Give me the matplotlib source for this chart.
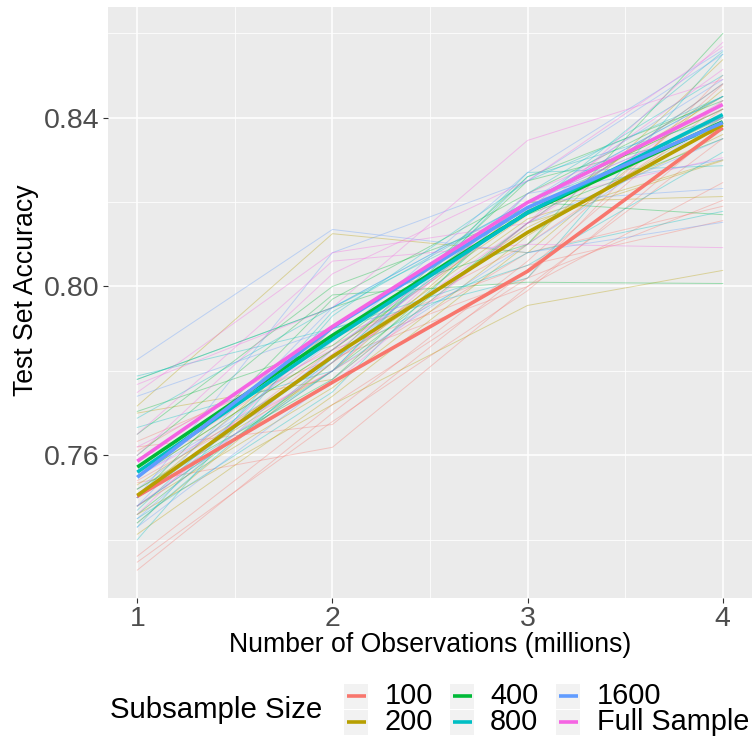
import matplotlib
matplotlib.use("Agg")
import matplotlib.pyplot as plt
from matplotlib.lines import Line2D
from matplotlib.patches import Rectangle

plt.rcParams['font.family'] = ['Liberation Sans', 'DejaVu Sans']

# ---------------- data ----------------
obs_millions = [1, 2, 3, 4]
groups = ["100", "200", "400", "800", "1600", "Full Sample"]
colors = ["#F8766D", "#B79F00", "#00BA38", "#00BFC4", "#619CFF", "#F564E3"]

# mean accuracy per subsample size (thick lines)
mean_100 = [0.7503, 0.7773, 0.8036, 0.8376]
mean_200 = [0.7505, 0.7834, 0.8128, 0.8383]
mean_400 = [0.7572, 0.7884, 0.8175, 0.8390]
mean_800 = [0.7560, 0.7875, 0.8175, 0.8407]
mean_1600 = [0.7548, 0.7903, 0.8187, 0.8388]
mean_full = [0.7586, 0.7905, 0.8199, 0.8431]

# individual runs (thin lines)
runs_100 = [
    [0.7328, 0.7700, 0.8060, 0.8478],
    [0.7347, 0.7680, 0.7990, 0.8380],
    [0.7361, 0.7720, 0.8020, 0.8500],
    [0.7535, 0.7619, 0.8000, 0.8350],
    [0.7633, 0.7830, 0.8000, 0.8246],
    [0.7560, 0.7860, 0.8100, 0.8420],
    [0.7500, 0.7850, 0.8020, 0.8204],
    [0.7540, 0.7800, 0.8080, 0.8190],
    [0.7610, 0.7880, 0.8050, 0.8156],
    [0.7620, 0.7673, 0.8040, 0.8440],
]
runs_200 = [
    [0.7413, 0.7740, 0.8100, 0.8537],
    [0.7460, 0.7720, 0.7955, 0.8038],
    [0.7717, 0.8125, 0.8080, 0.8466],
    [0.7700, 0.7780, 0.8150, 0.8298],
    [0.7520, 0.7800, 0.8200, 0.8213],
    [0.7480, 0.7760, 0.8120, 0.8400],
    [0.7550, 0.7850, 0.8170, 0.8450],
    [0.7440, 0.7820, 0.8140, 0.8360],
    [0.7530, 0.7830, 0.8160, 0.8300],
    [0.7500, 0.7900, 0.8200, 0.8420],
]
runs_400 = [
    [0.7780, 0.7950, 0.8100, 0.8599],
    [0.7600, 0.7980, 0.8010, 0.8007],
    [0.7704, 0.7860, 0.8200, 0.8170],
    [0.7500, 0.7970, 0.8220, 0.8450],
    [0.7480, 0.7800, 0.8150, 0.8480],
    [0.7550, 0.7850, 0.8180, 0.8400],
    [0.7460, 0.7820, 0.8250, 0.8370],
    [0.7650, 0.8000, 0.8170, 0.8350],
    [0.7520, 0.7780, 0.8200, 0.8420],
    [0.7500, 0.7830, 0.8260, 0.8440],
]
runs_800 = [
    [0.7788, 0.7900, 0.8050, 0.8318],
    [0.7780, 0.7950, 0.8180, 0.8556],
    [0.7688, 0.7950, 0.8200, 0.8450],
    [0.7666, 0.7800, 0.8270, 0.8286],
    [0.7440, 0.7830, 0.8080, 0.8178],
    [0.7450, 0.7750, 0.8220, 0.8500],
    [0.7470, 0.7900, 0.8020, 0.8550],
    [0.7500, 0.7800, 0.8260, 0.8400],
    [0.7430, 0.7940, 0.8200, 0.8380],
    [0.7400, 0.7930, 0.8250, 0.8450],
]
runs_1600 = [
    [0.7827, 0.8135, 0.8080, 0.8152],
    [0.7740, 0.7900, 0.8200, 0.8232],
    [0.7500, 0.8080, 0.8250, 0.8550],
    [0.7450, 0.7850, 0.8200, 0.8490],
    [0.7480, 0.7800, 0.8100, 0.8400],
    [0.7520, 0.7870, 0.8270, 0.8560],
    [0.7430, 0.7780, 0.8150, 0.8350],
    [0.7550, 0.7820, 0.8220, 0.8300],
    [0.7480, 0.7950, 0.8200, 0.8450],
    [0.7500, 0.7830, 0.8200, 0.8400],
]
runs_full = [
    [0.7768, 0.7950, 0.8346, 0.8490],
    [0.7749, 0.8080, 0.8150, 0.8578],
    [0.7650, 0.8060, 0.8100, 0.8092],
    [0.7600, 0.8030, 0.8250, 0.8568],
    [0.7500, 0.7840, 0.8180, 0.8514],
    [0.7460, 0.7900, 0.8200, 0.8305],
    [0.7550, 0.7800, 0.8220, 0.8420],
    [0.7480, 0.7820, 0.8150, 0.8440],
    [0.7620, 0.7850, 0.8200, 0.8400],
    [0.7500, 0.7770, 0.8150, 0.8480],
]

y_ticks = [0.76, 0.80, 0.84]
y_minor = [0.74, 0.78, 0.82, 0.86]
x_minor = [1.5, 2.5, 3.5]

all_means = [mean_100, mean_200, mean_400, mean_800, mean_1600, mean_full]
all_runs = [runs_100, runs_200, runs_400, runs_800, runs_1600, runs_full]

# ---------------- figure ----------------
W, H = 753, 740
fig = plt.figure(figsize=(W / 100, H / 100), dpi=100)
ax = fig.add_axes([108 / W, 1 - 598 / H, (752 - 108) / W, (598 - 7) / H])
ax.set_facecolor("#EBEBEB")

for runs, c in zip(all_runs, colors):
    for r in runs:
        ax.plot(obs_millions, r, color=c, alpha=0.35, lw=0.7, zorder=2)
for m, c in zip(all_means, colors):
    ax.plot(obs_millions, m, color=c, lw=2.6, zorder=3, solid_capstyle="butt")

ax.set_xlim(0.85, 4.15)
ax.set_ylim(0.7262, 0.8662)
ax.set_xticks(obs_millions)
ax.set_xticklabels([str(v) for v in obs_millions])
ax.set_yticks(y_ticks)
ax.set_yticklabels([f"{v:.2f}" for v in y_ticks])
ax.set_xticks(x_minor, minor=True)
ax.set_yticks(y_minor, minor=True)
ax.grid(which="major", color="white", lw=1.1, zorder=1)
ax.grid(which="minor", color="white", lw=0.55, zorder=1)
ax.set_axisbelow(True)
for s in ax.spines.values():
    s.set_visible(False)
ax.tick_params(which="major", length=3.3, width=0.8, color="#333333",
               labelcolor="#4D4D4D", labelsize=20.5, pad=2.5)
ax.tick_params(which="minor", length=0)

fig.text(26 / W, 1 - 290 / H, "Test Set Accuracy", rotation=90,
         ha="center", va="center", fontsize=19.2, color="black")
fig.text(430 / W, 1 - 645 / H, "Number of Observations (millions)",
         ha="center", va="center", fontsize=19.2, color="black")

# ---------------- legend ----------------
fig.text(110 / W, 1 - 710 / H, "Subsample Size", ha="left", va="center",
         fontsize=21.2, color="black")
key_x = [344, 450, 556]
text_x = [385, 490, 597]
row_y = [696, 722]
kw, kh = 24, 25
for i, (g, c) in enumerate(zip(groups, colors)):
    col, row = i // 2, i % 2
    x0 = key_x[col]
    yc = row_y[row]
    fig.patches.append(Rectangle((x0 / W, 1 - (yc + kh / 2) / H), kw / W, kh / H,
                                 transform=fig.transFigure, facecolor="#F2F2F2",
                                 edgecolor="none"))
    fig.lines.append(Line2D([(x0 + 2.5) / W, (x0 + kw - 2.5) / W],
                            [1 - yc / H, 1 - yc / H], transform=fig.transFigure,
                            color=c, lw=2.6, solid_capstyle="butt"))
    fig.text(text_x[col] / W, 1 - yc / H, g, ha="left", va="center",
             fontsize=20.8, color="black")

fig.savefig("out.png", dpi=100)
